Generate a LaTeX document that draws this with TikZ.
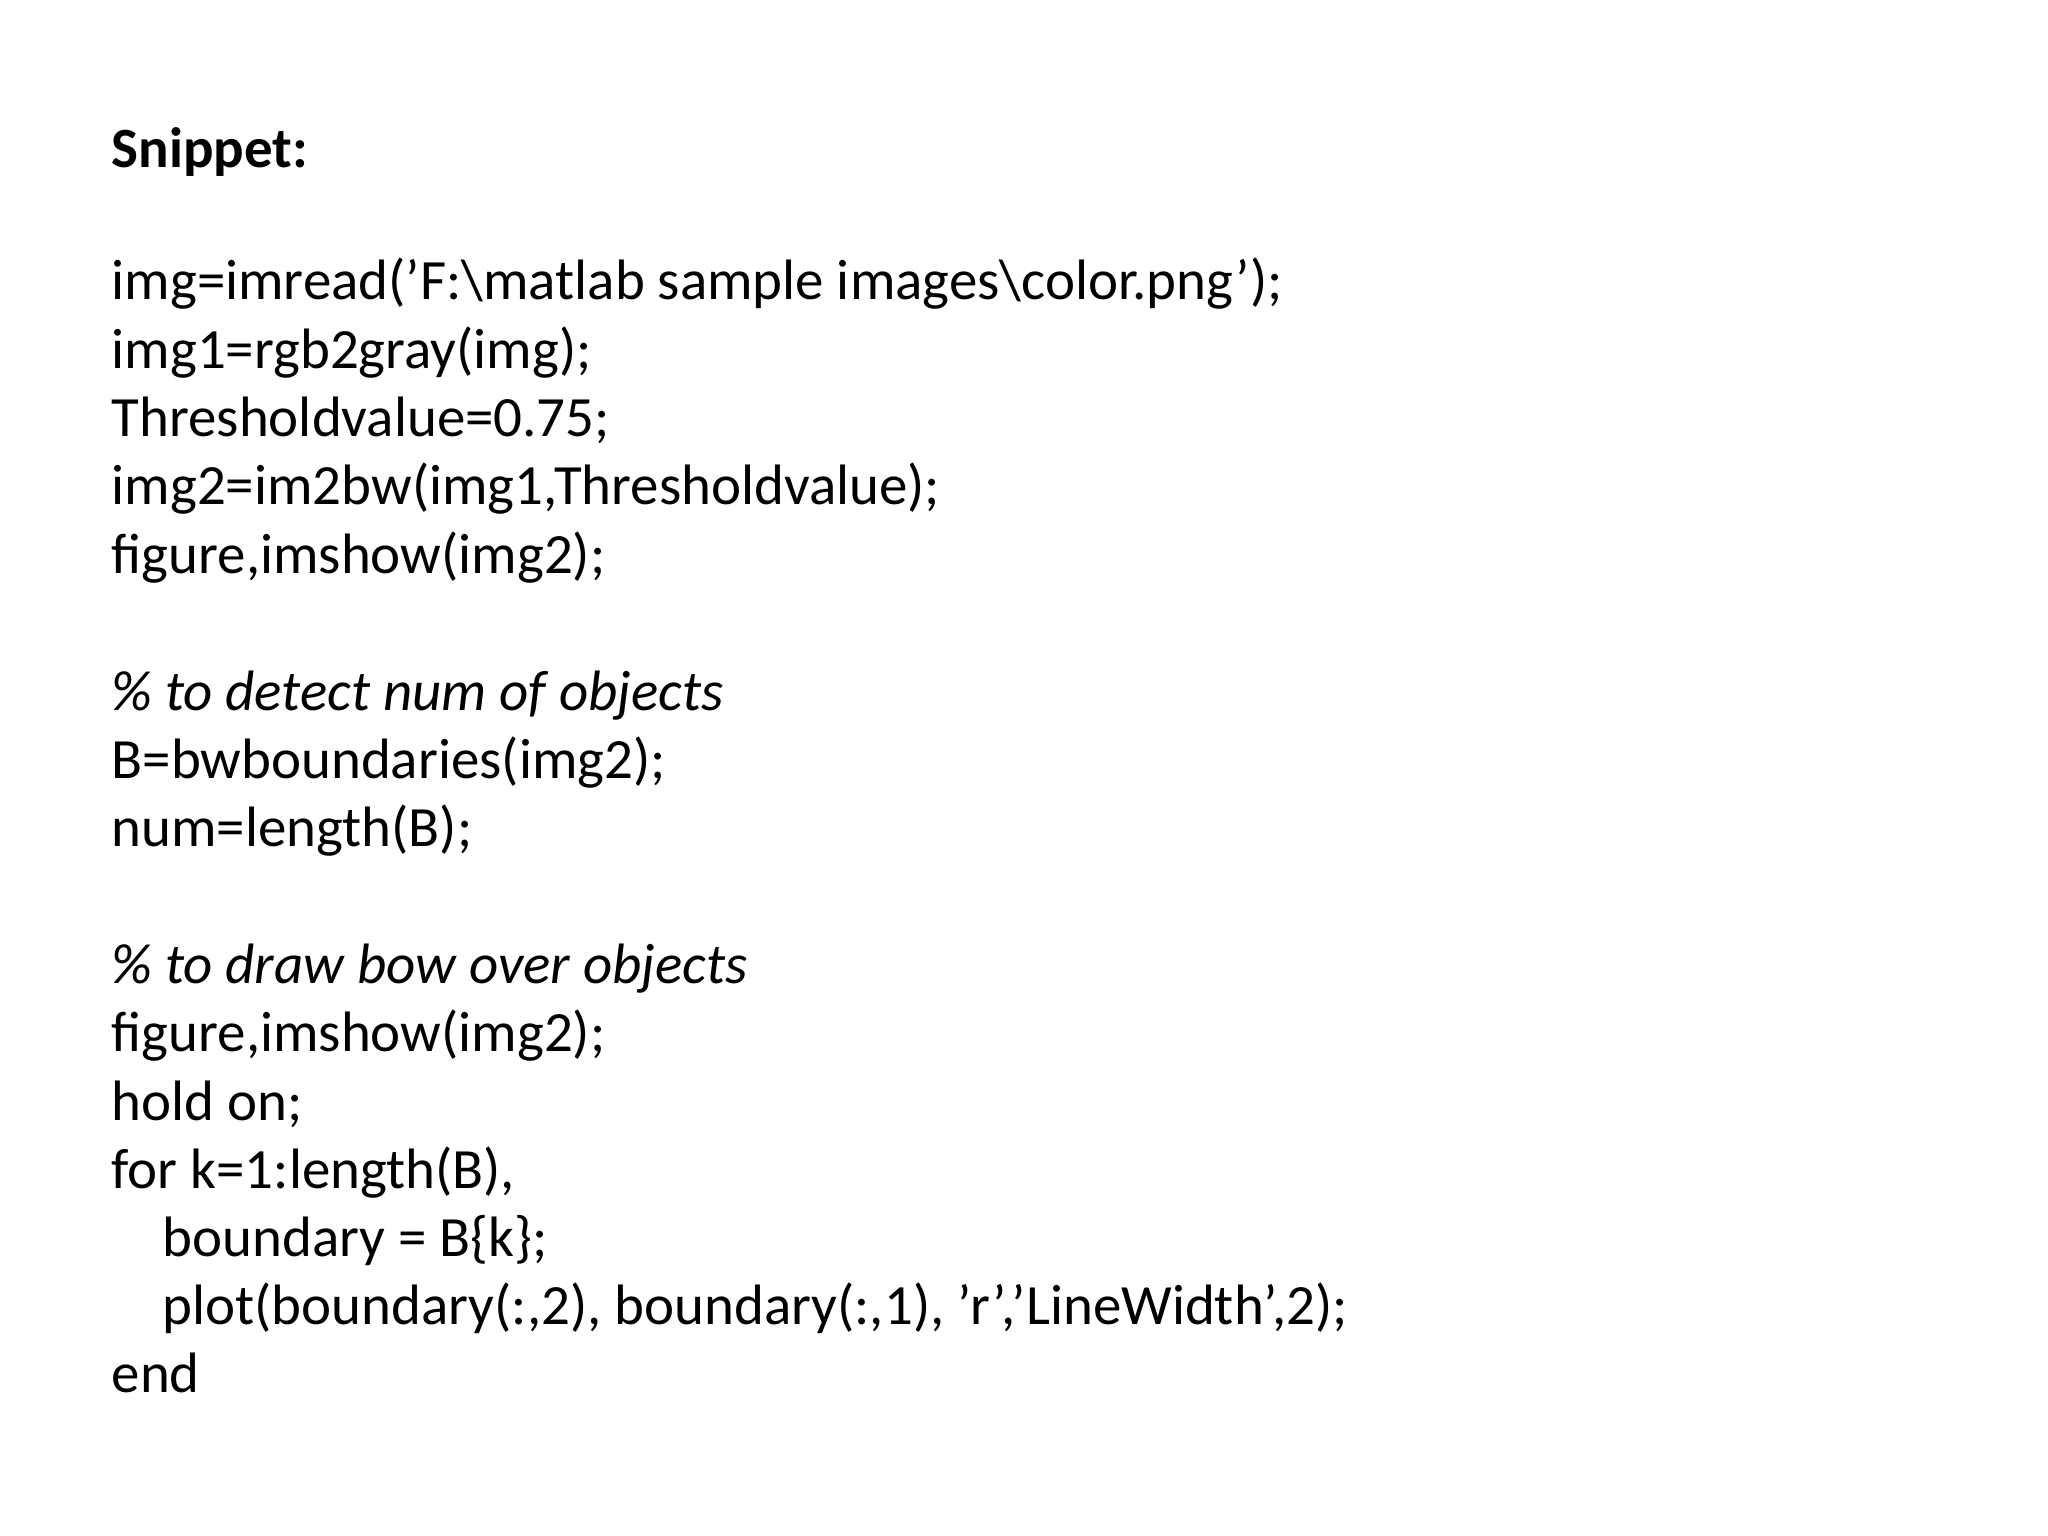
\documentclass[tikz,border=0pt]{standalone}
\usepackage{fontspec}
\setmainfont{Carlito}
\begin{document}
\begin{tikzpicture}[x=0.013061cm,y=-0.013061cm,
  ln/.style={anchor=base west,inner sep=0pt,font=\fontsize{16.2pt}{19pt}\selectfont}]
\useasboundingbox[fill=white] (0,0) rectangle (1568,1176);
\node[ln,font=\fontsize{16.2pt}{19pt}\selectfont\bfseries] (t) at (85,128) {Snippet:};
\node[ln] (l1) at (85,229) {img=imread('F:\textbackslash matlab sample images\textbackslash color.png');};
\node[ln] (l2) at (85,282) {img1=rgb2gray(img);};
\node[ln] (l3) at (85,334) {Thresholdvalue=0.75;};
\node[ln] (l4) at (85,386) {img2=im2bw(img1,Thresholdvalue);};
\node[ln] (l5) at (85,439) {figure,imshow(img2);};
\node[ln,font=\fontsize{16.2pt}{19pt}\selectfont\itshape] (c1) at (85,544) {\% to detect num of objects};
\node[ln] (l6) at (85,596) {B=bwboundaries(img2);};
\node[ln] (l7) at (85,648) {num=length(B);};
\node[ln,font=\fontsize{16.2pt}{19pt}\selectfont\itshape] (c2) at (85,753) {\% to draw bow over objects};
\node[ln] (l8) at (85,805) {figure,imshow(img2);};
\node[ln] (l9) at (85,858) {hold on;};
\node[ln] (l10) at (85,910) {for k=1:length(B),};
\node[ln] (l11) at (124,962) {boundary = B\{k\};};
\node[ln] (l12) at (124,1014) {plot(boundary(:,2), boundary(:,1), 'r','LineWidth',2);};
\node[ln] (l13) at (85,1066) {end};
\end{tikzpicture}
\end{document}
